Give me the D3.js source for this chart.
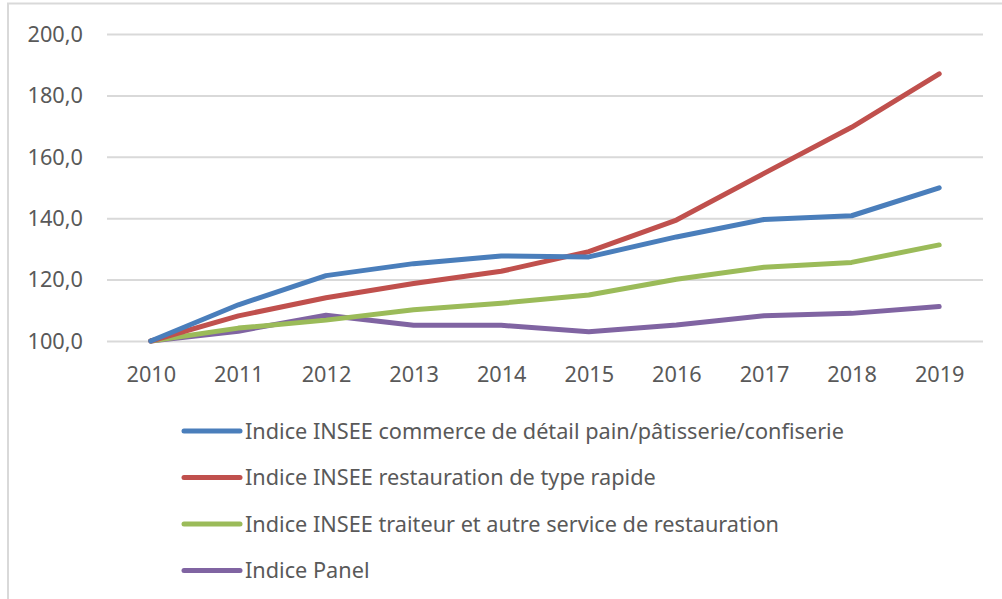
<!DOCTYPE html>
<html><head><meta charset="utf-8">
<script src="https://cdn.jsdelivr.net/npm/d3@7"></script>
<style>body{margin:0;background:#fff}</style></head>
<body><svg id="c" width="1002" height="599"></svg>
<script>
const years=["2010","2011","2012","2013","2014","2015","2016","2017","2018","2019"];
const yTicks=[100,120,140,160,180,200];
const seriesNames=[
 "Indice INSEE commerce de détail pain/pâtisserie/confiserie",
 "Indice INSEE restauration de type rapide",
 "Indice INSEE traiteur et autre service de restauration",
 "Indice Panel"];
const blueValues=[100,111.8,121.3,125.2,127.7,127.4,133.9,139.6,140.8,149.9];
const redValues=[100,108.2,114.1,118.7,122.7,129.1,139.4,154.6,169.6,187.0];
const greenValues=[100,104.2,106.8,110.2,112.3,115.0,120.1,124.0,125.6,131.3];
const purpleValues=[100,103.2,108.4,105.1,105.1,103.0,105.2,108.2,109.0,111.2];
const colors=["#4A7EBB","#C0504D","#9BBB59","#8064A2"];
const allValues=[blueValues,redValues,greenValues,purpleValues];

const svg=d3.select("#c");
const font="'Noto Sans', sans-serif";
const txt="#595959";

// frame
svg.append("line").attr("x1",7).attr("x2",1002).attr("y1",3.5).attr("y2",3.5).attr("stroke","#d9d9d9").attr("stroke-width",2);
svg.append("line").attr("x1",8).attr("x2",8).attr("y1",3).attr("y2",599).attr("stroke","#d9d9d9").attr("stroke-width",2);

const x=d3.scalePoint().domain(years).range([107,983]).padding(0.5);
const y=d3.scaleLinear().domain([100,200]).range([341,34]);

// gridlines
const yAxis=d3.axisLeft(y).tickValues(yTicks).tickSize(-(983-107)).tickPadding(24)
  .tickFormat(d=>d3.format(".1f")(d).replace(".",","));
const gy=svg.append("g").attr("transform","translate(107,0)").call(yAxis);
gy.select(".domain").remove();
gy.selectAll(".tick line").attr("stroke","#d9d9d9").attr("stroke-width",2);
gy.selectAll(".tick text").attr("fill",txt).style("font-family",font).style("font-size","21.7px").attr("dy","0.34em");

const xAxis=d3.axisBottom(x).tickSize(0).tickPadding(26);
const gx=svg.append("g").attr("transform","translate(0,341)").call(xAxis);
gx.select(".domain").remove();
gx.selectAll(".tick text").attr("fill",txt).style("font-family",font).style("font-size","21.7px");

const line=d3.line().x((d,i)=>x(years[i])).y(d=>y(d));
[3,2,1,0].forEach(k=>{
  svg.append("path").attr("d",line(allValues[k])).attr("fill","none")
   .attr("stroke",colors[k]).attr("stroke-width",5).attr("stroke-linecap","round").attr("stroke-linejoin","round");
});

// legend
const legY=d3.scalePoint().domain(seriesNames).range([431,570.5]);
const leg=svg.append("g");
seriesNames.forEach((n,k)=>{
  const yy=legY(n);
  leg.append("line").attr("x1",184).attr("x2",240).attr("y1",yy).attr("y2",yy)
    .attr("stroke",colors[k]).attr("stroke-width",5).attr("stroke-linecap","round");
  leg.append("text").attr("x",245).attr("y",yy).attr("dy","0.35em").attr("fill",txt)
    .style("font-family",font).style("font-size","21.7px").text(n);
});
</script></body></html>
